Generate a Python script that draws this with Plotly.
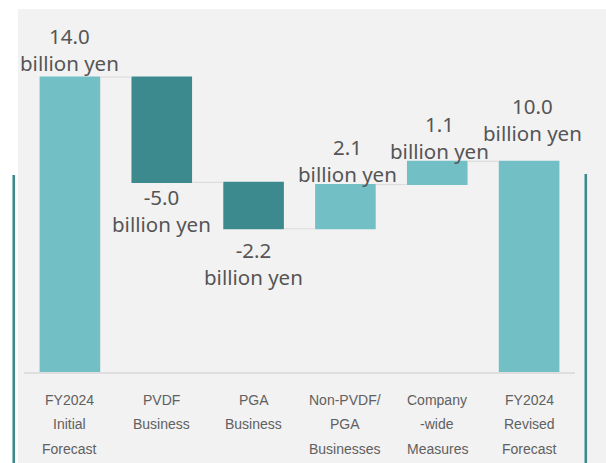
import plotly.graph_objects as go

# Operating profit bridge, FY2024 initial -> revised forecast (billion yen)
category_lines = [
    ["FY2024", "Initial", "Forecast"],
    ["PVDF", "Business"],
    ["PGA", "Business"],
    ["Non-PVDF/", "PGA", "Businesses"],
    ["Company", "-wide", "Measures"],
    ["FY2024", "Revised", "Forecast"],
]
values = [14.0, -5.0, -2.2, 2.1, 1.1, 10.0]
measures = ["absolute", "relative", "relative", "relative", "relative", "total"]
unit = "billion yen"

categories = [" ".join(lines) for lines in category_lines]

# colours
LIGHT = "#72bfc5"
DARK = "#3d8a8e"
TEXT = "#555555"
AXIS_TEXT = "#606060"
PANEL = "#f2f2f2"

fig = go.Figure(
    go.Waterfall(
        x=categories,
        y=values,
        measure=measures,
        increasing=dict(marker=dict(color=LIGHT)),
        decreasing=dict(marker=dict(color=DARK)),
        totals=dict(marker=dict(color=LIGHT)),
        connector=dict(line=dict(color="#dcdcdc", width=1.2), mode="between"),
        hoverinfo="skip",
    )
)

# value labels anchored to the outer end of each bar
label_shift = [(0, -2), (0, 1), (0, -5), (2, -5), (2, -6), (3, 12)]
running = 0.0
annotations = []
for i, (cat, v, m) in enumerate(zip(categories, values, measures)):
    if m == "absolute":
        start, end = 0.0, v
        running = v
    elif m == "relative":
        start, end = running, running + v
        running = end
    else:
        start, end = 0.0, running
    dx, dy = label_shift[i]
    negative = end < start
    anchor_y = min(start, end) if negative else max(start, end)
    annotations.append(
        dict(
            x=cat, y=anchor_y, xref="x", yref="y",
            text=f"{v:.1f}<br>{unit}",
            showarrow=False,
            yanchor="top" if negative else "bottom",
            xshift=dx, yshift=dy,
            font=dict(family="Noto Sans", size=20.5, color=TEXT),
        )
    )

# multi-line category labels under the axis
for cat, lines in zip(categories, category_lines):
    for j, line in enumerate(lines):
        annotations.append(
            dict(
                x=cat, y=0, xref="x", yref="paper",
                text=line, showarrow=False, yanchor="top",
                yshift=-17.5 - 24.5 * j,
                font=dict(family="Liberation Sans, Arial", size=14, color=AXIS_TEXT),
            )
        )

shapes = [
    # grey panel behind the chart
    dict(type="rect", xref="paper", yref="paper", x0=-0.0109, x1=1.08, y0=-0.3, y1=1.0,
         fillcolor=PANEL, line=dict(width=0), layer="below"),
    # teal side rules
    dict(type="line", xref="paper", yref="paper", x0=-0.0186, x1=-0.0186, y0=0.5427, y1=-0.3,
         line=dict(color=DARK, width=2.6)),
    dict(type="line", xref="paper", yref="paper", x0=1.0196, x1=1.0196, y0=0.5455, y1=-0.3,
         line=dict(color=DARK, width=2.6)),
]

fig.update_layout(
    width=606, height=463,
    margin=dict(l=24, r=31, t=9, b=91),
    paper_bgcolor="white",
    plot_bgcolor=PANEL,
    showlegend=False,
    waterfallgap=0.34,
    annotations=annotations,
    shapes=shapes,
    xaxis=dict(showticklabels=False, showgrid=False, zeroline=False,
               showline=True, linecolor="#dedede", linewidth=1.5,
               range=[-0.5, 5.5], fixedrange=True),
    yaxis=dict(visible=False, range=[0, 17.23], fixedrange=True),
)

fig.write_html("out.html", config=dict(displayModeBar=False))
